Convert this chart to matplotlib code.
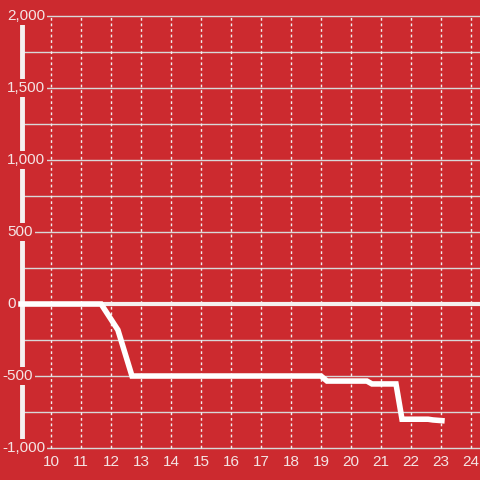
import matplotlib
matplotlib.use("Agg")
import matplotlib.pyplot as plt

# values
hours = [9.0, 11.67, 12.23, 12.7, 19.0, 19.2, 20.53, 20.7, 21.5, 21.7, 22.57, 22.73, 23.03]
balance = [0, 0, -180, -500, -500, -535, -535, -555, -555, -800, -800, -805, -810]

x_ticks = list(range(10, 25))
y_ticks = [-1000, -500, 0, 500, 1000, 1500, 2000]
y_grid = list(range(-1000, 2001, 250))

bg = "#cc2a2f"
fg = "#f4e4e4"

plt.rcParams['font.family'] = ['Liberation Sans', 'DejaVu Sans']

fig = plt.figure(figsize=(4.8, 4.8), dpi=100, facecolor=bg)
ax = fig.add_axes([0, 0, 1, 1])
ax.set_facecolor(bg)
ax.set_xlim(8.3, 24.3)
ax.set_ylim(-1222, 2111)
ax.axis("off")

x0 = 9.05
# horizontal grid
ax.hlines(y_grid, x0, 24.3, colors="#d8d8d8", linewidth=1, zorder=1)
# vertical dotted grid
ax.vlines(x_ticks, -1000, 2000, colors="#f0f0f0", linewidth=1, linestyles=(0, (2, 2)), zorder=1)
# zero line
ax.hlines(0, x0, 24.3, colors="#f5f0f0", linewidth=3, zorder=2)
# left axis line
ax.vlines(x0, -1000, 1944, colors="#f5f0f0", linewidth=3.5, zorder=2)

ax.plot(hours, balance, color="white", linewidth=4, solid_joinstyle="miter", zorder=3)

for v in y_ticks:
    left = 8.3 + (2 if v < 0 else 7) / 30
    ax.text(left, v, f"{v:,}", ha="left", va="center", fontsize=11, color=fg,
            bbox=dict(facecolor=bg, edgecolor="none", pad=1.5), zorder=4)
for t in x_ticks:
    ax.text(t, -1097, str(t), ha="center", va="center", fontsize=11, color=fg, zorder=4)

fig.savefig("out.png", dpi=100, facecolor=bg)
